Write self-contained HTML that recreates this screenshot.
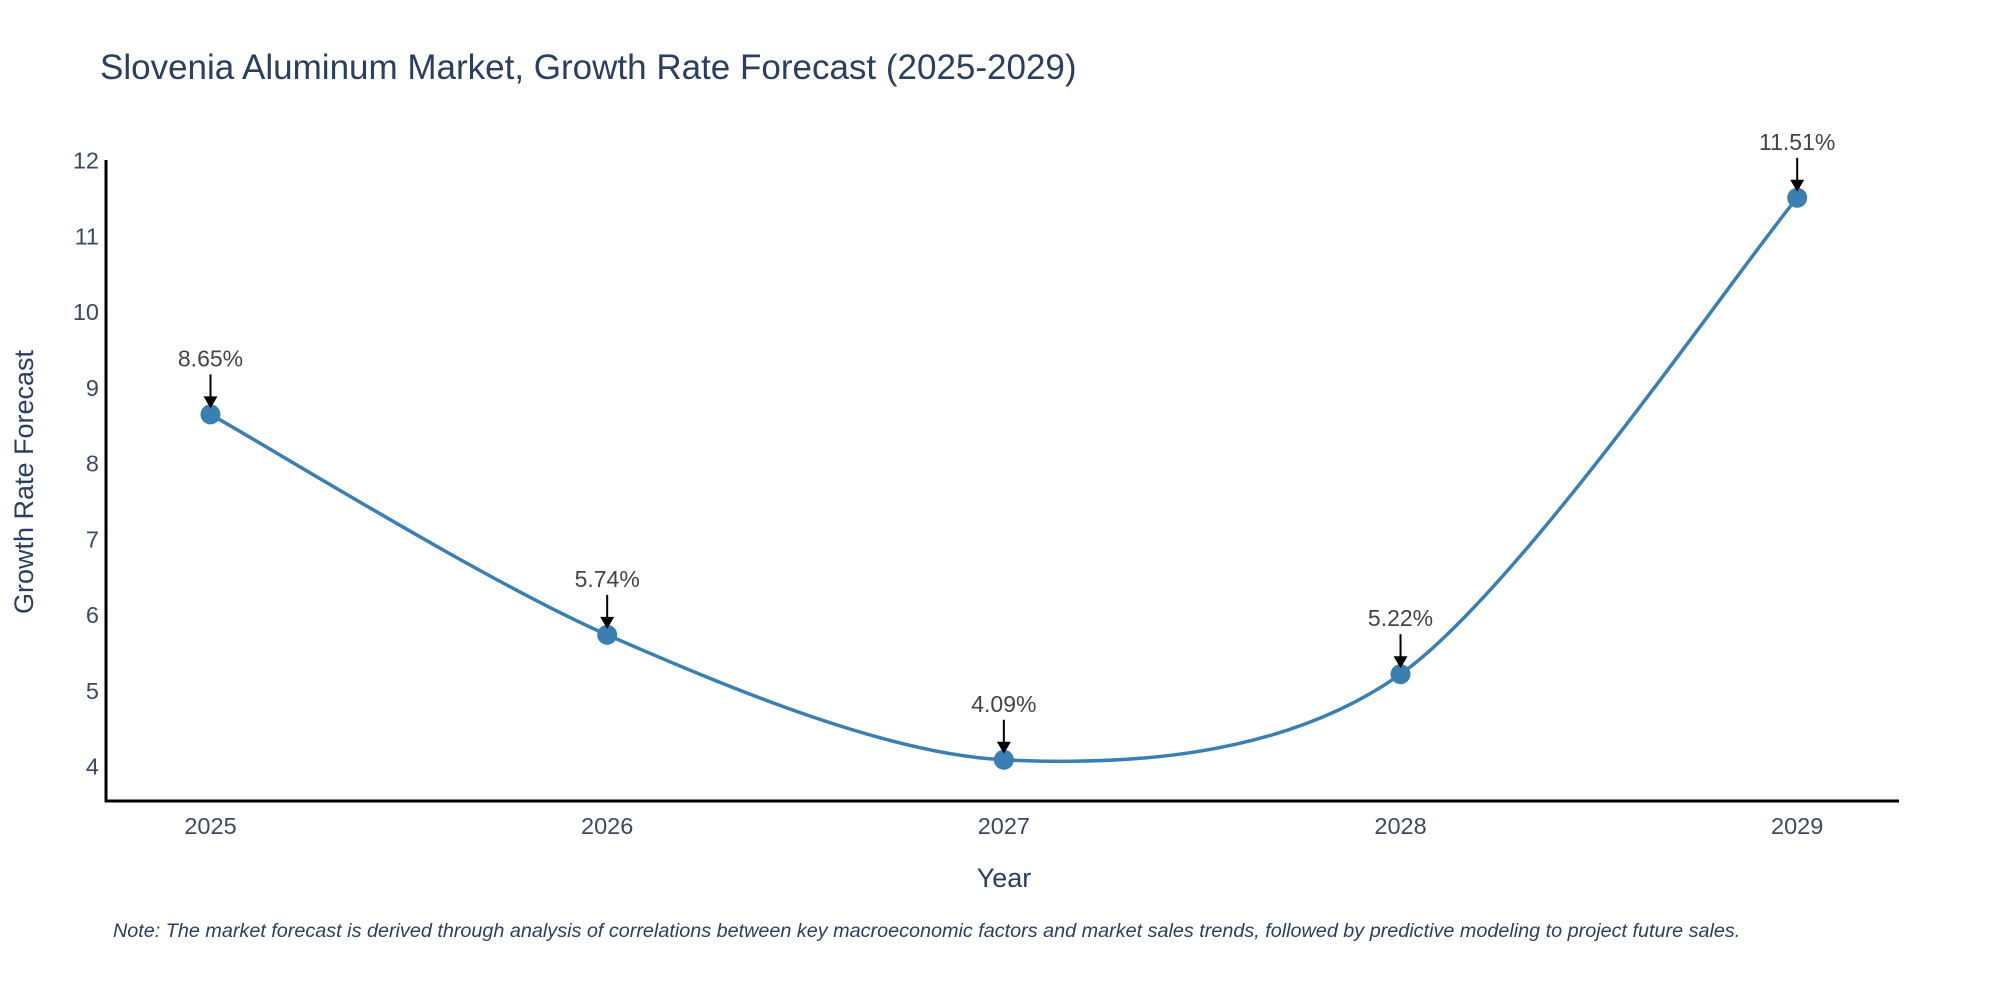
<!DOCTYPE html>
<html><head><meta charset="utf-8"><style>
body{margin:0;background:#fff}
svg text{font-family:"Liberation Sans",sans-serif}
</style></head><body>
<svg id="chart" width="2000" height="1000" xmlns="http://www.w3.org/2000/svg">
<text x="100" y="79" font-size="35" fill="#2a3f5f">Slovenia Aluminum Market, Growth Rate Forecast (2025-2029)</text>
<g id="axes"></g>
<g id="marks"></g>
<text transform="translate(33,482) rotate(-90)" text-anchor="middle" font-size="27" fill="#2a3f5f">Growth Rate Forecast</text>
<text x="1004" y="887" text-anchor="middle" font-size="27" fill="#2a3f5f">Year</text>
<text x="113" y="937" font-size="19.8" font-style="italic" fill="#2a3f5f">Note: The market forecast is derived through analysis of correlations between key macroeconomic factors and market sales trends, followed by predictive modeling to project future sales.</text>
</svg>
<script>
const years = ["2025","2026","2027","2028","2029"];
const values = [8.65, 5.74, 4.09, 5.22, 11.51];
const yTicks = [4,5,6,7,8,9,10,11,12];
const NS="http://www.w3.org/2000/svg";
const x0=210.5, x1=1797.2, yv4=766.6, yv12=160.7;
const xs=i=>x0+(x1-x0)*i/(years.length-1);
const ys=v=>yv4+(v-4)*(yv12-yv4)/8;
function mk(tag,attrs,parent,txt){const e=document.createElementNS(NS,tag);for(const k in attrs)e.setAttribute(k,attrs[k]);if(txt!==undefined)e.textContent=txt;parent.appendChild(e);return e;}
const axes=document.getElementById('axes'), marks=document.getElementById('marks');
let l=mk('line',{x1:106,y1:160,x2:106,y2:802,stroke:'#000','stroke-width':3},axes);


l=mk('line',{x1:105,y1:801,x2:1899,y2:801,stroke:'#000','stroke-width':3},axes);


yTicks.forEach(t=>{const e=mk('text',{x:99,y:ys(t)+8,'text-anchor':'end','font-size':23.5,fill:'#3a4a60'},axes,String(t));

});
years.forEach((y,i)=>{const e=mk('text',{x:xs(i),y:834,'text-anchor':'middle','font-size':23.5,fill:'#3a4a60'},axes,y);

});
const pts=values.map((v,i)=>[xs(i),ys(v)]);
let d=`M${pts[0][0]},${pts[0][1]}`;const s=0.15;
for(let i=0;i<pts.length-1;i++){const p0=pts[Math.max(0,i-1)],p1=pts[i],p2=pts[i+1],p3=pts[Math.min(pts.length-1,i+2)];
const c1=[p1[0]+(p2[0]-p0[0])*s,p1[1]+(p2[1]-p0[1])*s],c2=[p2[0]-(p3[0]-p1[0])*s,p2[1]-(p3[1]-p1[1])*s];
d+=` C${c1[0]},${c1[1]} ${c2[0]},${c2[1]} ${p2[0]},${p2[1]}`;}
const path=mk('path',{d:d,fill:'none',stroke:'#3a7fb1','stroke-width':3.5},marks);


pts.forEach((p,i)=>{
const c=mk('circle',{cx:p[0],cy:p[1],r:10,fill:'#3a7fb1'},marks);


const a=mk('line',{x1:p[0],y1:p[1]-40,x2:p[0],y2:p[1]-14,stroke:'#000','stroke-width':2},marks);


const h=mk('path',{d:`M${p[0]-7},${p[1]-18} L${p[0]+7},${p[1]-18} L${p[0]},${p[1]-6} z`,fill:'#000'},marks);


const t=mk('text',{x:p[0],y:p[1]-48,'text-anchor':'middle','font-size':23,fill:'#444'},marks,values[i].toFixed(2)+'%');


});
</script>
</body></html>
